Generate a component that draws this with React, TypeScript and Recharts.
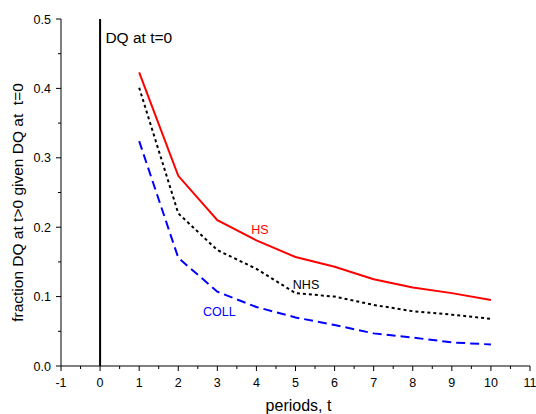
import { LineChart, Line, XAxis, YAxis, ReferenceLine, ReferenceDot } from "recharts";

const periods = [1, 2, 3, 4, 5, 6, 7, 8, 9, 10];
const hsValues = [0.423, 0.274, 0.21, 0.181, 0.157, 0.143, 0.125, 0.113, 0.105, 0.095];
const nhsValues = [0.401, 0.22, 0.167, 0.14, 0.105, 0.1, 0.088, 0.079, 0.074, 0.068];
const collValues = [0.324, 0.156, 0.107, 0.085, 0.07, 0.059, 0.047, 0.041, 0.034, 0.031];

const xMajorTicks = [-1, 0, 1, 2, 3, 4, 5, 6, 7, 8, 9, 10, 11];
const yMajorTicks = [0, 0.1, 0.2, 0.3, 0.4, 0.5];

const xTicks = xMajorTicks.flatMap((v, i) => (i < xMajorTicks.length - 1 ? [v, v + 0.5] : [v]));
const yTicks = yMajorTicks.flatMap((v, i) => (i < yMajorTicks.length - 1 ? [v, +(v + 0.05).toFixed(2)] : [v]));

const data = periods.map((t, i) => ({
  t,
  hs: hsValues[i],
  nhs: nhsValues[i],
  coll: collValues[i],
}));

const FONT = "'Liberation Sans', Arial, sans-serif";

function XTick(props: any) {
  const { x, y, payload } = props;
  const major = Number.isInteger(payload.value);
  return (
    <g>
      <line x1={x} x2={x} y1={y} y2={y + (major ? 5 : 3)} stroke="#000" strokeWidth={1} />
      {major && (
        <text x={x} y={y + 21} textAnchor="middle" fontSize={12.5} fontFamily={FONT} fill="#000">
          {payload.value}
        </text>
      )}
    </g>
  );
}

function YTick(props: any) {
  const { x, y, payload } = props;
  const major = Math.abs(payload.value * 10 - Math.round(payload.value * 10)) < 1e-6;
  return (
    <g>
      <line x1={x} x2={x - (major ? 5 : 3)} y1={y} y2={y} stroke="#000" strokeWidth={1} />
      {major && (
        <text x={x - 10} y={y + 4.5} textAnchor="end" fontSize={12.5} fontFamily={FONT} fill="#000">
          {payload.value.toFixed(1)}
        </text>
      )}
    </g>
  );
}

// text note centred on a zero-radius reference dot
function note(text: string, color: string, size = 12.5) {
  return (props: any) => {
    const { viewBox } = props;
    const cx = viewBox.x + viewBox.width / 2;
    const cy = viewBox.y + viewBox.height / 2;
    return (
      <text x={cx} y={cy + size * 0.36} textAnchor="middle" fontSize={size} fontFamily={FONT} fill={color}>
        {text}
      </text>
    );
  };
}

export default function App() {
  return (
    <div style={{ position: "absolute", left: 0, top: 0, background: "#fff" }}>
      <LineChart width={536} height={414} data={data} margin={{ top: 19, right: 6, bottom: 18, left: 1 }}>
        <XAxis
          type="number"
          dataKey="t"
          domain={[-1, 11]}
          ticks={xTicks}
          interval={0}
          tickSize={0}
          tickMargin={0}
          tickLine={false}
          tick={<XTick />}
          axisLine={{ stroke: "#000", strokeWidth: 1 }}
          height={30}
          label={{
            content: (p: any) => (
              <text
                x={p.viewBox.x + p.viewBox.width / 2 + 3}
                y={411}
                textAnchor="middle"
                fontSize={16}
                fontFamily={FONT}
                fill="#000"
              >
                periods, t
              </text>
            ),
          }}
        />
        <YAxis
          type="number"
          domain={[0, 0.5]}
          ticks={yTicks}
          interval={0}
          tickSize={0}
          tickMargin={0}
          tickLine={false}
          tick={<YTick />}
          axisLine={{ stroke: "#000", strokeWidth: 1 }}
          width={60}
          label={{
            content: (p: any) => {
              const cy = p.viewBox.y + p.viewBox.height / 2 + 10;
              return (
                <text
                  x={17.5}
                  y={cy}
                  transform={`rotate(-90 17.5 ${cy})`}
                  textAnchor="middle"
                  dominantBaseline="central"
                  fontSize={15.5}
                  fontFamily={FONT}
                  fill="#000"
                  style={{ whiteSpace: "pre" }}
                >
                  fraction DQ at t&gt;0 given DQ at  t=0
                </text>
              );
            },
          }}
        />
        <ReferenceLine x={0} stroke="#000" strokeWidth={2} />
        <Line
          type="linear"
          dataKey="hs"
          stroke="#ff0000"
          strokeWidth={2}
          dot={false}
          isAnimationActive={false}
        />
        <Line
          type="linear"
          dataKey="nhs"
          stroke="#000"
          strokeWidth={2}
          strokeDasharray="3 3"
          dot={false}
          isAnimationActive={false}
        />
        <Line
          type="linear"
          dataKey="coll"
          stroke="#0000ff"
          strokeWidth={2}
          strokeDasharray="9 5"
          dot={false}
          isAnimationActive={false}
        />
        <ReferenceDot x={0.99} y={0.474} r={0} stroke="none" fill="none" label={{ content: note("DQ at t=0", "#000", 15.5) }} />
        <ReferenceDot x={4.09} y={0.196} r={0} stroke="none" fill="none" label={{ content: note("HS", "#ff0000") }} />
        <ReferenceDot x={5.27} y={0.118} r={0} stroke="none" fill="none" label={{ content: note("NHS", "#000") }} />
        <ReferenceDot x={3.05} y={0.079} r={0} stroke="none" fill="none" label={{ content: note("COLL", "#0000ff") }} />
      </LineChart>
    </div>
  );
}
